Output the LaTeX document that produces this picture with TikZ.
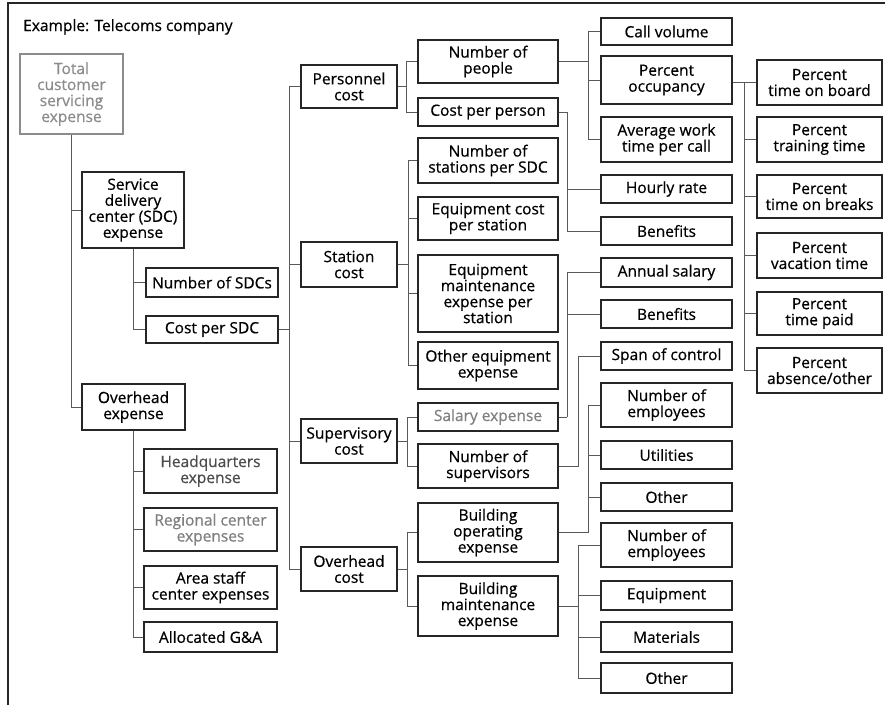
\documentclass[tikz,border=0pt]{standalone}
\usepackage{fontspec}
\setmainfont{Open Sans}[FakeBold=0.6]
\begin{document}
\begin{tikzpicture}[x=1pt,y=-1pt,
  bx/.style 2 args={draw=black!85, line width=1.1pt, minimum width=#1, minimum height=#2,
    inner sep=0pt, align=center, font=\fontsize{15.5}{16}\selectfont},
  ln/.style={draw=black!65, line width=0.8pt},
  gr/.style={text=black!45, draw=black!45},
  gt/.style={text=black!40!gray},
  gl/.style={text=black!50}]
\useasboundingbox (0,0) rectangle (885,705);
\fill[white] (0,0) rectangle (885,705);
\draw[line width=2pt, black!85] (8,705) -- (8,3) -- (885,3);

\node[anchor=base west, inner sep=0pt, font=\fontsize{15.5}{16}\selectfont] (title) at (23,31) {Example: Telecoms company};

% level 0/1
\node[bx={103pt}{80pt}, gr] (tot) at (71.5,94) {Total\\customer\\servicing\\expense};
\node[bx={102pt}{76pt}] (sdc) at (133,210) {Service\\delivery\\center (SDC)\\expense};
\node[bx={132pt}{29pt}] (nsdc) at (212,282.5) {Number of SDCs};
\node[bx={132pt}{27pt}] (cpsdc) at (212,329.5) {Cost per SDC};
\node[bx={103pt}{46pt}] (ohe) at (133.5,407) {Overhead\\expense};
\node[bx={133pt}{44pt}, gt] (hq) at (210.5,471) {Headquarters\\expense};
\node[bx={133pt}{43pt}, gl] (reg) at (210.5,529.5) {Regional center\\expenses};
\node[bx={133pt}{43pt}] (area) at (210.5,587.5) {Area staff\\center expenses};
\node[bx={133pt}{30pt}] (alloc) at (210.5,637) {Allocated G\&A};

% level 2
\node[bx={96pt}{43pt}] (pers) at (349,86.5) {Personnel\\cost};
\node[bx={96pt}{45pt}] (stat) at (349,264.5) {Station\\cost};
\node[bx={96pt}{44pt}] (sup) at (349,441) {Supervisory\\cost};
\node[bx={96pt}{44pt}] (ohc) at (349,569) {Overhead\\cost};

% level 3
\node[bx={140pt}{43pt}] (npeople) at (488,61.5) {Number of\\people};
\node[bx={140pt}{28pt}] (cpp) at (488,112) {Cost per person};
\node[bx={140pt}{45pt}] (nstat) at (488,160.5) {Number of\\stations per SDC};
\node[bx={140pt}{43pt}] (eqcost) at (488,218.5) {Equipment cost\\per station};
\node[bx={140pt}{77pt}] (eqmaint) at (488,293.5) {Equipment\\maintenance\\expense per\\station};
\node[bx={140pt}{47pt}] (otheq) at (488,365.5) {Other equipment\\expense};
\node[bx={140pt}{28pt}, gl] (salexp) at (488,417) {Salary expense};
\node[bx={140pt}{44pt}] (nsup) at (488,466) {Number of\\supervisors};
\node[bx={140pt}{59pt}] (bop) at (488,532.5) {Building\\operating\\expense};
\node[bx={140pt}{60pt}] (bmaint) at (488,606) {Building\\maintenance\\expense};

% level 4
\node[bx={131pt}{27pt}] (callvol) at (666.5,31.5) {Call volume};
\node[bx={131pt}{48pt}] (pocc) at (666.5,80) {Percent\\occupancy};
\node[bx={131pt}{45pt}] (awt) at (666.5,139.5) {Average work\\time per call};
\node[bx={131pt}{28pt}] (hourly) at (666.5,189) {Hourly rate};
\node[bx={131pt}{28pt}] (ben1) at (666.5,231) {Benefits};
\node[bx={131pt}{29pt}] (annsal) at (666.5,272.5) {Annual salary};
\node[bx={131pt}{28pt}] (ben2) at (666.5,314) {Benefits};
\node[bx={131pt}{28pt}] (span) at (666.5,356) {Span of control};
\node[bx={131pt}{44pt}] (nemp1) at (666.5,405) {Number of\\employees};
\node[bx={131pt}{28pt}] (util) at (666.5,455) {Utilities};
\node[bx={131pt}{28pt}] (oth1) at (666.5,497) {Other};
\node[bx={131pt}{44pt}] (nemp2) at (666.5,545) {Number of\\employees};
\node[bx={131pt}{29pt}] (equip) at (666.5,595.5) {Equipment};
\node[bx={131pt}{30pt}] (mater) at (666.5,637) {Materials};
\node[bx={131pt}{30pt}] (oth2) at (666.5,678) {Other};

% level 5
\node[bx={125pt}{45pt}] (p1) at (819.5,82.5) {Percent\\time on board};
\node[bx={125pt}{45pt}] (p2) at (819.5,139.5) {Percent\\training time};
\node[bx={125pt}{43pt}] (p3) at (819.5,196.5) {Percent\\time on breaks};
\node[bx={125pt}{45pt}] (p4) at (819.5,255.5) {Percent\\vacation time};
\node[bx={125pt}{43pt}] (p5) at (819.5,313.5) {Percent\\time paid};
\node[bx={125pt}{45pt}] (p6) at (819.5,370.5) {Percent\\absence/other};

% connectors
\draw[ln] (tot.south) |- (sdc.west);
\draw[ln] (tot.south) |- (ohe.west);
\draw[ln] (sdc.south) |- (nsdc.west);
\draw[ln] (sdc.south) |- (cpsdc.west);
\foreach \n in {hq,reg,area,alloc} \draw[ln] (ohe.south) |- (\n.west);

\coordinate (b2) at (289,329.5);
\draw[ln] (cpsdc.east) -- (b2);
\foreach \n in {pers,stat,sup,ohc} \draw[ln] (b2) |- (\n.west);

\coordinate (bp) at (406,86.5);
\draw[ln] (pers.east) -- (bp);
\foreach \n in {npeople,cpp} \draw[ln] (bp) |- (\n.west);

\coordinate (bs) at (408,264.5);
\draw[ln] (stat.east) -- (bs);
\foreach \n in {nstat,eqcost,eqmaint,otheq} \draw[ln] (bs) |- (\n.west);

\coordinate (bsu) at (407,441);
\draw[ln] (sup.east) -- (bsu);
\foreach \n in {salexp,nsup} \draw[ln] (bsu) |- (\n.west);

\coordinate (bo) at (407,569);
\draw[ln] (ohc.east) -- (bo);
\foreach \n in {bop,bmaint} \draw[ln] (bo) |- (\n.west);

\coordinate (bnp) at (588,61.5);
\draw[ln] (npeople.east) -- (bnp);
\foreach \n in {callvol,pocc,awt} \draw[ln] (bnp) |- (\n.west);

\coordinate (bcpp) at (567,112);
\draw[ln] (cpp.east) -- (bcpp);
\foreach \n in {hourly,ben1} \draw[ln] (bcpp) |- (\n.west);

\coordinate (bsal) at (567,417);
\draw[ln] (salexp.east) -- (bsal);
\foreach \n in {annsal,ben2} \draw[ln] (bsal) |- (\n.west);

\coordinate (bns) at (578,466);
\draw[ln] (nsup.east) -- (bns) |- (span.west);

\coordinate (bbop) at (588,532.5);
\draw[ln] (bop.east) -- (bbop);
\foreach \n in {nemp1,util,oth1} \draw[ln] (bbop) |- (\n.west);

\coordinate (bbm) at (578,606);
\draw[ln] (bmaint.east) -- (bbm);
\foreach \n in {nemp2,equip,mater,oth2} \draw[ln] (bbm) |- (\n.west);

\coordinate (bpo) at (744,82.5);
\draw[ln] (pocc.east |- bpo) -- (bpo);
\foreach \n in {p1,p2,p3,p4,p5,p6} \draw[ln] (bpo) |- (\n.west);
\end{tikzpicture}
\end{document}
